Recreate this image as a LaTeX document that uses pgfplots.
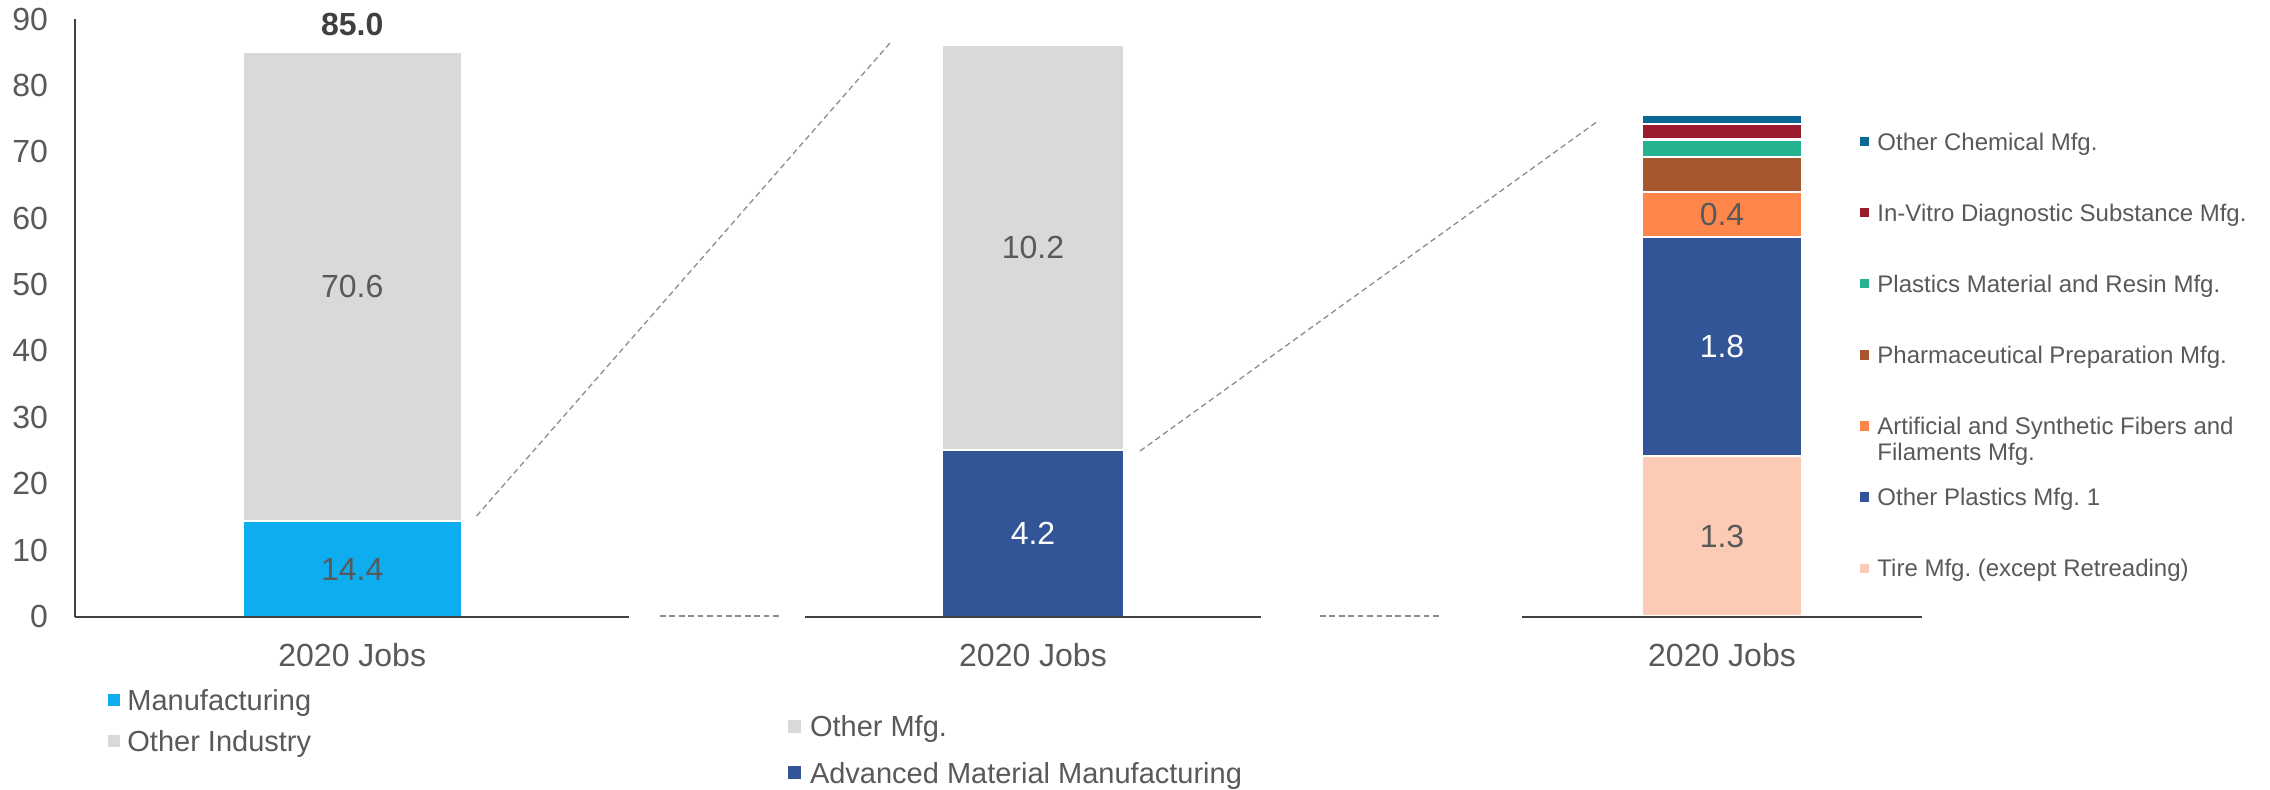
\documentclass[border=0pt]{standalone}
\usepackage{fontspec}
\setmainfont{Liberation Sans}
\usepackage{pgfplots}
\pgfplotsset{compat=1.18}
\frenchspacing
\definecolor{txt}{HTML}{595959}
\definecolor{axl}{HTML}{404040}
\definecolor{dashc}{HTML}{8C8C8C}
\definecolor{mfg}{HTML}{0DADEF}
\definecolor{oth}{HTML}{D9D9D9}
\definecolor{adv}{HTML}{325597}
\definecolor{tire}{HTML}{FBCBB5}
\definecolor{fib}{HTML}{FF864B}
\definecolor{pharma}{HTML}{A65730}
\definecolor{resin}{HTML}{25B38F}
\definecolor{vitro}{HTML}{9B1C2F}
\definecolor{chem}{HTML}{0B6794}
\tikzset{lbl/.style={font=\fontsize{11.2}{13}\selectfont, text=txt, inner sep=0pt, text height=8pt, text depth=0pt, anchor=center}}
\pgfplotsset{
  panel/.style={
    scale only axis, height=209.125pt, ymin=0, enlargelimits=false,
    ybar stacked, xmin=-1, xmax=1, xtick={0}, xticklabels={2020 Jobs},
    axis x line*=bottom, axis on top, clip=false,
    axis line style={axl, line width=0.7pt},
    major tick length=0pt,
    /pgf/number format/assume math mode=true,
    tick label style={font=\fontsize{11.2}{13}\selectfont, text=txt},
    xticklabel style={anchor=north, inner sep=0pt, text height=8pt, text depth=0pt, yshift=-9.45pt},
    yticklabel style={anchor=east, inner sep=0pt, xshift=-9.45pt},
    legend cell align=left,
  },
  sqA/.style={legend image code/.code={\fill[##1,draw=none] (0pt,-1.12pt) rectangle (4.2pt,3.08pt);}},
  sqB/.style={legend image code/.code={\fill[##1,draw=none] (0pt,-1.3pt) rectangle (4.55pt,3.25pt);}},
  sqC/.style={legend image code/.code={\fill[##1,draw=none] (0pt,-0.85pt) rectangle (3.3pt,2.45pt);}},
}
\begin{document}
\begin{tikzpicture}
\useasboundingbox (0,0) rectangle (794.5pt,276.15pt);
% Panel 1
\begin{axis}[panel, at={(26.425pt,60.375pt)}, anchor=south west,
  width=193.725pt, ymax=90, ytick={0,10,...,90}, axis y line*=left,
  bar width=76.65pt,
  legend style={draw=none, fill=none, at={(0.0587,-0.1213)}, anchor=north west,
    inner sep=0pt, outer sep=0pt, font=\fontsize{10.15}{12}\selectfont, text=txt,
    row sep=4.65pt, column sep=2.6pt,
    nodes={inner sep=0pt, text height=7.5pt, text depth=2.2pt}}]
\addplot[fill=mfg, draw=white, line width=0.6pt, sqA] coordinates {(0,14.4)};
\addlegendentry{Manufacturing}
\addplot[fill=oth, draw=white, line width=0.6pt, sqA] coordinates {(0,70.6)};
\addlegendentry{Other Industry}
\coordinate (p1a) at (axis cs:0,7.2);
\coordinate (p1b) at (axis cs:0,49.7);
\coordinate (p1t) at (axis cs:0,85);
\end{axis}
\node[lbl] at (p1a) {14.4};
\node[lbl] at (p1b) {70.6};
\node[font=\fontsize{11.2}{13}\selectfont\bfseries, text=axl, inner sep=0pt, anchor=base, yshift=6pt] at (p1t) {85.0};
% Panel 2
\begin{axis}[panel, at={(281.75pt,60.375pt)}, anchor=south west,
  width=159.6pt, ymax=15.06, ytick=\empty, axis y line=none,
  bar width=63.35pt, reverse legend,
  legend style={draw=none, fill=none, at={(-0.0373,-0.1649)}, anchor=north west,
    inner sep=0pt, outer sep=0pt, font=\fontsize{10.15}{12}\selectfont, text=txt,
    row sep=6.6pt, column sep=3.15pt,
    nodes={inner sep=0pt, text height=7.5pt, text depth=2.2pt}}]
\addplot[fill=adv, draw=white, line width=0.6pt, sqB] coordinates {(0,4.2)};
\addlegendentry{Advanced Material Manufacturing}
\addplot[fill=oth, draw=white, line width=0.6pt, sqB] coordinates {(0,10.2)};
\addlegendentry{Other Mfg.}
\coordinate (p2a) at (axis cs:0,2.1);
\coordinate (p2b) at (axis cs:0,9.3);
\end{axis}
\node[lbl, text=white] at (p2a) {4.2};
\node[lbl] at (p2b) {10.2};
% Panel 3
\begin{axis}[panel, at={(532.56pt,60.375pt)}, anchor=south west,
  width=140.28pt, ymax=5, ytick=\empty, axis y line=none,
  bar width=56pt, reverse legend,
  legend style={draw=none, fill=none, at={(0.8443,0.8104)}, anchor=north west,
    inner sep=0pt, outer sep=0pt, font=\fontsize{8.4}{9.2}\selectfont, text=txt,
    row sep=16.9pt, column sep=2.8pt,
    nodes={inner sep=0pt, text height=6.2pt, text depth=1.8pt}}]
\addplot[fill=tire, draw=white, line width=0.8pt, sqC] coordinates {(0,1.345)};
\addlegendentry{Tire Mfg. (except Retreading)}
\addplot[fill=adv, draw=white, line width=0.8pt, sqC] coordinates {(0,1.83)};
\addlegendentry{Other Plastics Mfg. 1}
\addplot[fill=fib, draw=white, line width=0.8pt, sqC] coordinates {(0,0.377)};
\addlegendentry{\smash{\parbox[t]{200pt}{\raggedright Artificial and Synthetic Fibers and\\Filaments Mfg.}}}
\addplot[fill=pharma, draw=white, line width=0.8pt, sqC] coordinates {(0,0.295)};
\addlegendentry{Pharmaceutical Preparation Mfg.}
\addplot[fill=resin, draw=white, line width=0.8pt, sqC] coordinates {(0,0.145)};
\addlegendentry{Plastics Material and Resin Mfg.}
\addplot[fill=vitro, draw=white, line width=0.8pt, sqC] coordinates {(0,0.131)};
\addlegendentry{In-Vitro Diagnostic Substance Mfg.}
\addplot[fill=chem, draw=white, line width=0.8pt, sqC] coordinates {(0,0.078)};
\addlegendentry{Other Chemical Mfg.}
\coordinate (p3a) at (axis cs:0,0.6725);
\coordinate (p3b) at (axis cs:0,2.26);
\coordinate (p3c) at (axis cs:0,3.3635);
\end{axis}
\node[lbl] at (p3a) {1.3};
\node[lbl, text=white] at (p3b) {1.8};
\node[lbl] at (p3c) {0.4};
% connector lines
\begin{scope}[draw=dashc, line width=0.45pt, dash pattern=on 2pt off 1.3pt]
\draw (166.8pt,95.55pt) -- (311.5pt,261.1pt);
\draw (231pt,60.6pt) -- (273.7pt,60.6pt);
\draw (399pt,118.3pt) -- (559.3pt,233.8pt);
\draw (462pt,60.6pt) -- (504.7pt,60.6pt);
\end{scope}
\end{tikzpicture}
\end{document}
